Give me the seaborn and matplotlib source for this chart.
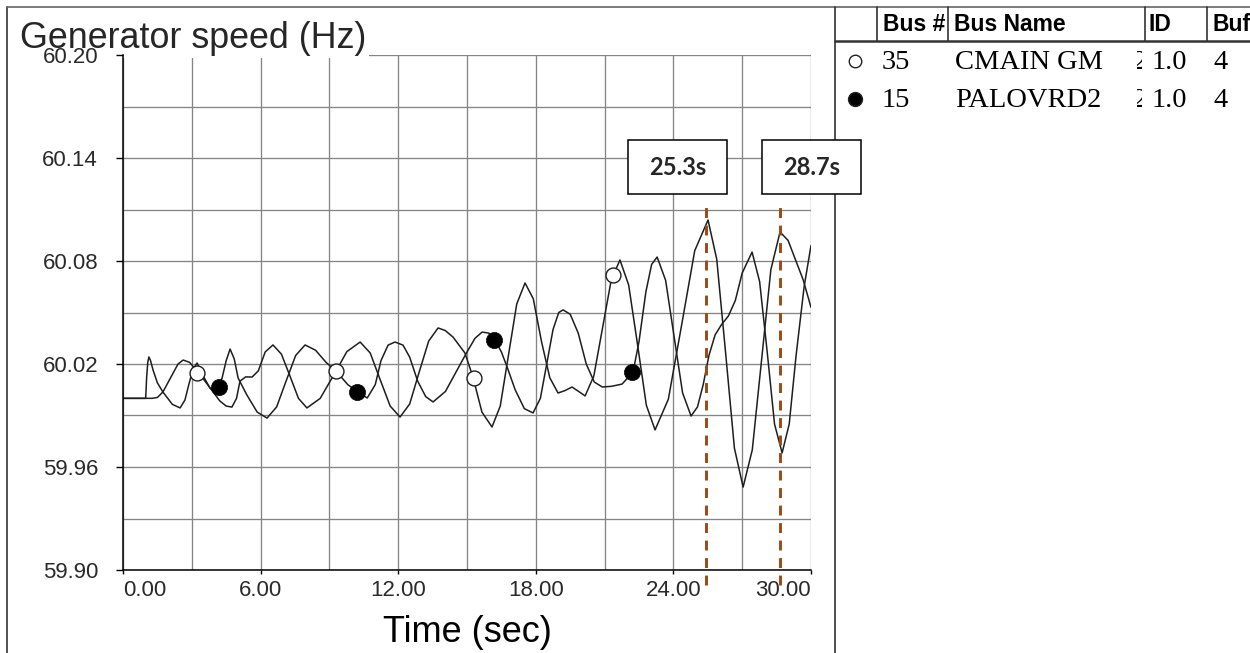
import numpy as np
import pandas as pd
import matplotlib
matplotlib.use("Agg")
import matplotlib.pyplot as plt
import seaborn as sns
from matplotlib.lines import Line2D
from matplotlib.patches import Rectangle
from matplotlib.transforms import Bbox, TransformedBbox

# ---------------- data ----------------
# Bus 35 CMAIN GM (open circles)
t_cmain = [0.00, 1.26, 1.50, 1.74, 2.14, 2.40, 2.62, 2.90, 3.27, 3.69, 4.22, 4.50, 4.75,
           4.95, 5.10, 5.35, 5.63, 5.90, 6.20, 6.54, 6.91, 7.28, 7.65, 8.02, 8.60, 9.29,
           9.76, 10.34, 10.78, 11.21, 11.65, 12.08, 12.50, 12.91, 13.33, 13.74, 14.05,
           14.39, 14.91, 15.26, 15.65, 16.09, 16.45, 16.81, 17.17, 17.53, 17.89, 18.25,
           18.61, 18.97, 19.27, 19.58, 19.87, 20.15, 20.53, 20.91, 21.29, 21.67, 22.05,
           22.44, 22.82, 23.20, 23.78, 24.36, 24.93, 25.51, 25.89, 26.28, 26.66, 27.04,
           27.44, 27.85, 28.25, 28.65, 29.00, 29.66, 30.00]
f_cmain = [60.000, 60.000, 60.0005, 60.0037, 60.0136, 60.0200, 60.0223, 60.0210, 60.0153,
           60.0080, 59.9985, 59.9955, 59.9949, 60.0000, 60.0100, 60.0125, 60.0124, 60.0160,
           60.0270, 60.0311, 60.0257, 60.0130, 60.0000, 59.9944, 60.0000, 60.0159, 60.0272,
           60.0328, 60.0264, 60.0110, 59.9955, 59.9891, 59.9967, 60.0151, 60.0334, 60.0410,
           60.0395, 60.0357, 60.0264, 60.0124, 59.9920, 59.9833, 59.9955, 60.0253, 60.0550,
           60.0672, 60.0580, 60.0330, 60.0120, 60.0031, 60.0045, 60.0066, 60.0040, 60.0014,
           60.0130, 60.0410, 60.0690, 60.0806, 60.0660, 60.0310, 59.9960, 59.9816, 59.9995,
           60.0428, 60.0860, 60.1039, 60.0810, 60.0260, 59.9710, 59.9483, 59.9700, 60.0230,
           60.0750, 60.0969, 60.0920, 60.0690, 60.0530]

# Bus 15 PALOVRD2 (filled circles)
t_palo = [0.00, 0.99, 1.03, 1.08, 1.13, 1.20, 1.31, 1.50, 1.74, 2.15, 2.49, 2.70, 2.87,
          3.05, 3.23, 3.50, 3.79, 4.05, 4.32, 4.50, 4.67, 4.85, 5.02, 5.40, 5.85, 6.28,
          6.70, 7.11, 7.53, 7.94, 8.40, 8.85, 9.29, 9.80, 10.25, 10.65, 11.00, 11.25,
          11.56, 11.86, 12.21, 12.50, 12.85, 13.20, 13.52, 14.06, 14.59, 15.00, 15.35,
          15.66, 15.95, 16.22, 16.50, 16.75, 17.10, 17.50, 17.88, 18.20, 18.49, 18.75,
          19.00, 19.19, 19.50, 19.85, 20.20, 20.55, 20.90, 21.30, 21.76, 22.24, 22.50,
          22.80, 23.05, 23.29, 23.66, 24.03, 24.40, 24.77, 25.05, 25.30, 25.55, 25.82,
          26.10, 26.40, 26.70, 27.00, 27.43, 27.76, 28.09, 28.41, 28.74, 29.05, 29.35,
          29.70, 30.00]
f_palo = [60.000, 60.000, 60.012, 60.021, 60.0241, 60.022, 60.0165, 60.009, 60.0037,
          59.9965, 59.9944, 59.9990, 60.0080, 60.0170, 60.0206, 60.0130, 60.0060, 60.0035,
          60.0118, 60.0220, 60.0287, 60.0230, 60.0118, 60.0020, 59.9920, 59.9885, 59.9950,
          60.0100, 60.0250, 60.0311, 60.0280, 60.0210, 60.0159, 60.0080, 60.0037, 60.0002,
          60.0080, 60.0220, 60.0310, 60.0328, 60.0310, 60.0240, 60.0100, 60.0010, 59.9979,
          60.0040, 60.0170, 60.0270, 60.0350, 60.0386, 60.0380, 60.0340, 60.0270, 60.0182,
          60.0050, 59.9940, 59.9915, 60.0000, 60.0210, 60.0400, 60.0500, 60.0515, 60.0490,
          60.0380, 60.0200, 60.0095, 60.0066, 60.0070, 60.0083, 60.0153, 60.0330, 60.0620,
          60.0780, 60.0823, 60.0688, 60.0360, 60.0032, 59.9897, 59.9950, 60.0080, 60.0250,
          60.0370, 60.0430, 60.0480, 60.0570, 60.0730, 60.0852, 60.0680, 60.0270, 59.9850,
          59.9682, 59.9850, 60.0250, 60.0650, 60.0890]

# identifying markers placed on each trace
mk_cmain_t = [3.23, 9.29, 15.31, 21.37]
mk_cmain_f = [60.0150, 60.0160, 60.0120, 60.0718]
mk_palo_t = [4.19, 10.21, 16.18, 22.20]
mk_palo_f = [60.0066, 60.0037, 60.0340, 60.0153]

# event markers
event_times = [25.4, 28.65]
event_labels = ["25.3s", "28.7s"]

# axis ticks / grid
x_ticks = [0, 6, 12, 18, 24, 30]
x_tick_labels = ["0.00", "6.00", "12.00", "18.00", "24.00", "30.00"]
x_grid = [0, 3, 6, 9, 12, 15, 18, 21, 24, 27, 30]
y_ticks = [59.90, 59.96, 60.02, 60.08, 60.14, 60.20]
y_tick_labels = ["59.90", "59.96", "60.02", "60.08", "60.14", "60.20"]
y_grid = [59.90, 59.93, 59.96, 59.99, 60.02, 60.05, 60.08, 60.11, 60.14, 60.17, 60.20]

# legend table content
tbl_headers = ["Bus #", "Bus Name", "ID", "Buf"]
tbl_bus = ["35", "15"]
tbl_names = ["CMAIN GM", "PALOVRD2"]
tbl_ids = ["1.0", "1.0"]
tbl_buf = ["4", "4"]

# ---------------- drawing ----------------
sns.set_style("white")
plt.rcParams['font.family'] = ['Liberation Sans', 'DejaVu Sans']

W, H = 1250, 653
fig = plt.figure(figsize=(12.5, 6.53), dpi=100)


def fx(px):
    return px / W


def fy(py):
    return 1 - py / H


ax = fig.add_axes([fx(123), fy(570), fx(811) - fx(123), fy(55) - fy(570)])
ax.set_facecolor("white")

grid_c = "#858585"
for v in x_grid:
    ax.axvline(v, color=grid_c, lw=0.95, zorder=0.8)
for v in y_grid:
    ax.axhline(v, color=grid_c, lw=0.95, zorder=0.8)

line_c = "#1e1e1e"
df_c = pd.DataFrame({"t": t_cmain, "f": f_cmain})
df_p = pd.DataFrame({"t": t_palo, "f": f_palo})
sns.lineplot(data=df_c, x="t", y="f", sort=False, estimator=None, color=line_c,
             lw=1.1, ax=ax, zorder=2)
sns.lineplot(data=df_p, x="t", y="f", sort=False, estimator=None, color=line_c,
             lw=1.1, ax=ax, zorder=2)
sns.scatterplot(x=mk_cmain_t, y=mk_cmain_f, marker="o", s=115, color="white",
                edgecolor=line_c, linewidth=1.0, ax=ax, zorder=3)
sns.scatterplot(x=mk_palo_t, y=mk_palo_f, marker="o", s=135, color="black",
                edgecolor="black", linewidth=0.5, ax=ax, zorder=3)

brown = "#9a4a14"
for t in event_times:
    ax.axvline(t, ymin=-0.03, ymax=0.718, color=brown, lw=2.1,
               linestyle=(0, (3.4, 2.6)), clip_on=False, zorder=4)

ax.set_xlim(0, 30)
ax.set_ylim(59.90, 60.20)
ax.set_xticks(x_ticks)
ax.set_xticklabels(x_tick_labels)
ax.set_yticks(y_ticks)
ax.set_yticklabels(y_tick_labels)
ax.grid(False)
for s in ["top", "right"]:
    ax.spines[s].set_visible(False)
for s in ["left", "bottom"]:
    ax.spines[s].set_color("black")
    ax.spines[s].set_linewidth(1.1)
ax.set_axisbelow(False)
ax.tick_params(axis="y", left=True, length=5, width=1, pad=13, labelsize=16,
               labelcolor="#2a2a2a", color="black")
ax.tick_params(axis="x", bottom=True, length=3, width=1, pad=4, labelsize=16,
               labelcolor="#2a2a2a", color="black")
xl = ax.get_xticklabels()
xl[0].set_ha("left")
xl[-1].set_ha("right")
ax.set_ylabel("")
ax.set_xlabel("Time (sec)", fontsize=26, labelpad=10, color="black")

# chart title in the top-left corner, drawn over the grid but under tick labels
ax.text(fx(20), fy(48), "Generator speed (Hz)", transform=fig.transFigure,
        fontsize=25.8, ha="left", va="baseline", zorder=1.9, clip_on=False,
        bbox=dict(boxstyle="square,pad=0.06", fc="white", ec="none"))

# outer frame and separator
frame_c = "#333333"
fig.add_artist(Line2D([fx(7), fx(7)], [fy(7), 0], transform=fig.transFigure,
                      color=frame_c, lw=1.2, zorder=2))
fig.add_artist(Line2D([fx(7), 1], [fy(7), fy(7)], transform=fig.transFigure,
                      color="#666666", lw=1.2, zorder=2))
fig.add_artist(Line2D([fx(835), fx(835)], [fy(7), 0], transform=fig.transFigure,
                      color=frame_c, lw=1.2, zorder=2))
# table header lines
fig.add_artist(Line2D([fx(835), 1], [fy(41), fy(41)], transform=fig.transFigure,
                      color=frame_c, lw=1.8, zorder=2))
for cx in [877, 948, 1145, 1207]:
    fig.add_artist(Line2D([fx(cx), fx(cx)], [fy(7), fy(41)], transform=fig.transFigure,
                          color=frame_c, lw=1.2, zorder=2))

hdr_x = [883, 954, 1149, 1212]
for hx, htxt in zip(hdr_x, tbl_headers):
    fig.text(fx(hx), fy(31), htxt, fontsize=16.5, fontweight="bold", ha="left",
             va="baseline", color="black")

row_base = [69, 107]
row_mark_y = [61, 99]
for i in range(2):
    filled = i == 1
    fig.add_artist(Line2D([fx(855)], [fy(row_mark_y[i])], transform=fig.transFigure,
                          marker="o", markersize=10 if filled else 9,
                          markerfacecolor="black" if filled else "white",
                          markeredgecolor="#222222", markeredgewidth=1.0,
                          linestyle="none"))
    kw = dict(fontsize=20.5, ha="left", va="baseline", color="black",
              family=["Liberation Serif", "DejaVu Serif"])
    fig.text(fx(882), fy(row_base[i]), tbl_bus[i], **kw)
    fig.text(fx(955), fy(row_base[i]), tbl_names[i], **kw)
    sliver = fig.text(fx(1133), fy(row_base[i]), "2", **kw)
    sliver.set_clip_box(TransformedBbox(Bbox([[fx(1137), 0], [fx(1142), 1]]),
                                        fig.transFigure))
    sliver.set_clip_on(True)
    fig.text(fx(1152), fy(row_base[i]), tbl_ids[i], **kw)
    fig.text(fx(1213), fy(row_base[i]), tbl_buf[i], **kw)

# event annotation boxes
box_left = [628, 762]
for bx, lab in zip(box_left, event_labels):
    fig.add_artist(Rectangle((fx(bx), fy(194)), 99 / W, 54 / H, transform=fig.transFigure,
                             facecolor="white", edgecolor="black", lw=1.1, zorder=5))
    fig.text(fx(bx + 49.5), fy(167), lab, fontsize=17, fontweight="bold",
             family=["Lato", "DejaVu Sans"], ha="center", va="center", zorder=6)

fig.savefig("out.png", dpi=100, facecolor="white")
